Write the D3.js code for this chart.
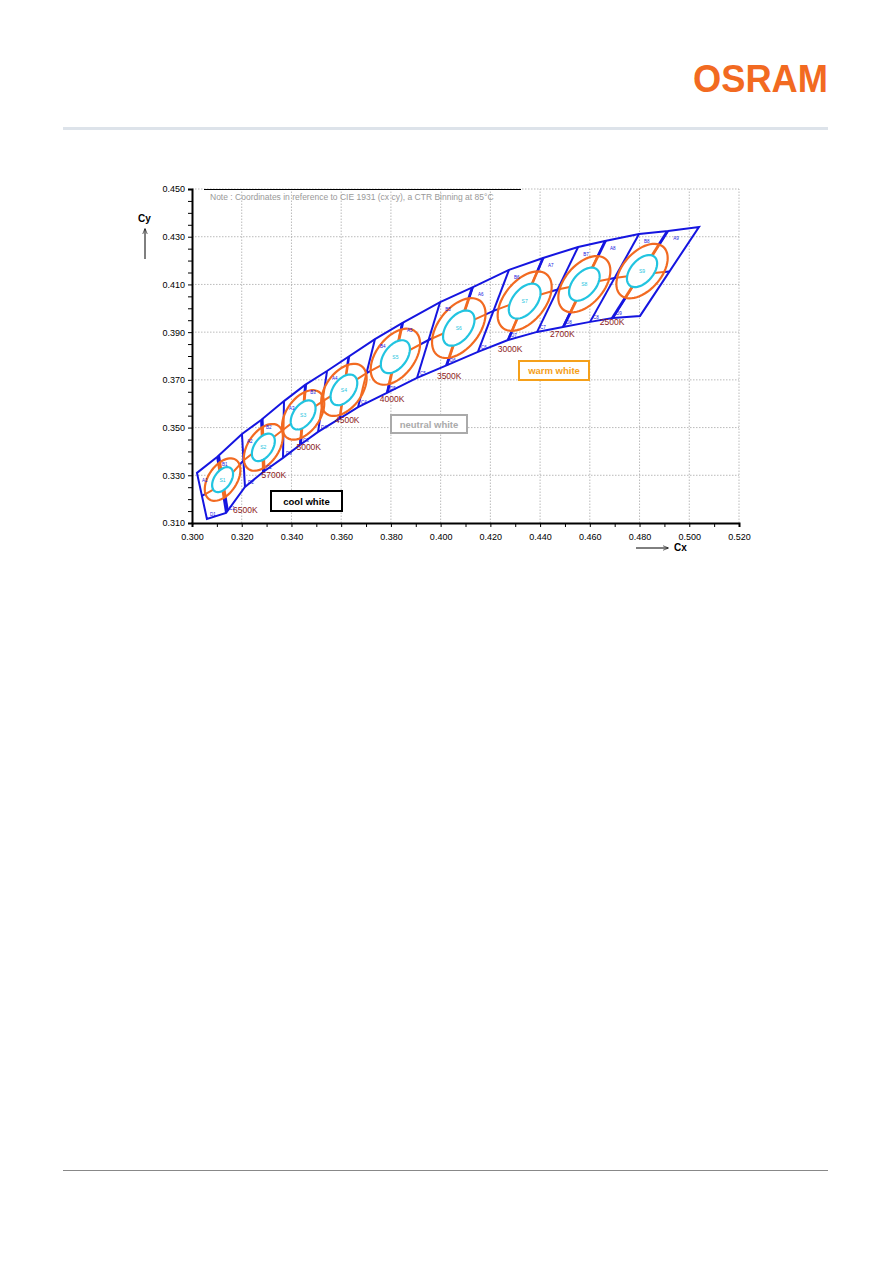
<!DOCTYPE html>
<html><head><meta charset="utf-8">
<script src="https://cdn.jsdelivr.net/npm/d3@7"></script>
<style>body{margin:0;background:#fff}</style>
</head><body><div id="chart"></div>
<script>
// outline of binning area: upper and lower boundary points, paired as bin dividers
var upperX = [0.3020,0.3101,0.3201,0.3278,0.3370,0.3455,0.3543,0.3736,0.3845,0.3998,0.4130,0.4275,0.4412,0.4553,0.4661,0.4798,0.4915,0.5039];
var upperY = [0.3310,0.3377,0.3473,0.3532,0.3611,0.3679,0.3737,0.3871,0.3938,0.4026,0.4089,0.4161,0.4211,0.4257,0.4282,0.4311,0.4324,0.4341];
var lowerX = [0.3060,0.3137,0.3213,0.3286,0.3366,0.3434,0.3507,0.3668,0.3784,0.3905,0.4026,0.4150,0.4271,0.4388,0.4492,0.4601,0.4693,0.4802];
var lowerY = [0.3117,0.3142,0.3251,0.3314,0.3373,0.3427,0.3482,0.3586,0.3645,0.3708,0.3762,0.3817,0.3867,0.3901,0.3922,0.3943,0.3959,0.3968];

var cctNames = ["6500K","5700K","5000K","4500K","4000K","3500K","3000K","2700K","2500K"];
var centerX = [0.3123,0.3287,0.3447,0.3611,0.3818,0.4073,0.4338,0.4578,0.4810];
var centerY = [0.3282,0.3417,0.3553,0.3658,0.3797,0.3917,0.4030,0.4101,0.4156];
var ellA = [0.0058,0.0064,0.0068,0.0072,0.0078,0.0084,0.0084,0.0080,0.0078];
var ellB = [0.0034,0.0037,0.0040,0.0043,0.0046,0.0049,0.0049,0.0047,0.0046];
var ellAngle = [58,58,57,56,55,54,53,52,51];
var labelX = [0.3165,0.3280,0.3420,0.3575,0.3755,0.3985,0.4230,0.4440,0.4640];
var labelY = [0.3142,0.3290,0.3408,0.3518,0.3608,0.3702,0.3818,0.3880,0.3930];

var xTicks = [0.300,0.320,0.340,0.360,0.380,0.400,0.420,0.440,0.460,0.480,0.500,0.520];
var yTicks = [0.310,0.330,0.350,0.370,0.390,0.410,0.430,0.450];

var W = 892, H = 1261;
var svg = d3.select("#chart").append("svg").attr("width", W).attr("height", H)
    .style("font-family", "Liberation Sans, Arial, sans-serif");
var defs = svg.append("defs");

// page header / footer
svg.append("text").attr("x", 693).attr("y", 92).text("OSRAM")
    .attr("font-size", 38).attr("font-weight", "bold").attr("fill", "#f26a21")
    .attr("textLength", 135).attr("lengthAdjust", "spacingAndGlyphs");
svg.append("rect").attr("x", 63).attr("y", 127).attr("width", 765).attr("height", 3).attr("fill", "#dde3ea");
svg.append("rect").attr("x", 63).attr("y", 1170).attr("width", 765).attr("height", 1).attr("fill", "#888");

var x = d3.scaleLinear().domain([0.300, 0.520]).range([192, 739]);
var y = d3.scaleLinear().domain([0.310, 0.450]).range([523, 189]);

// grid
svg.selectAll(".gx").data(xTicks.slice(1)).enter().append("line")
    .attr("x1", d => x(d)).attr("x2", d => x(d)).attr("y1", y(0.31)).attr("y2", y(0.45))
    .attr("stroke", "#aaa").attr("stroke-width", 0.8).attr("stroke-dasharray", "1.5,1.5");
svg.selectAll(".gy").data(yTicks.slice(1)).enter().append("line")
    .attr("x1", x(0.3)).attr("x2", x(0.52)).attr("y1", d => y(d)).attr("y2", d => y(d))
    .attr("stroke", "#aaa").attr("stroke-width", 0.8).attr("stroke-dasharray", "1.5,1.5");

var xAxis = svg.append("g").attr("transform", "translate(0," + y(0.31) + ")")
    .call(d3.axisBottom(x).tickValues(d3.range(0.300, 0.5201, 0.010)).tickSize(4)
        .tickFormat(d => xTicks.some(t => Math.abs(t - d) < 1e-6) ? d3.format(".3f")(d) : ""));
var yAxis = svg.append("g").attr("transform", "translate(" + x(0.3) + ",0)")
    .call(d3.axisLeft(y).tickValues(d3.range(0.310, 0.4501, 0.005)).tickSize(4)
        .tickFormat(d => yTicks.some(t => Math.abs(t - d) < 1e-6) ? d3.format(".3f")(d) : ""));
[xAxis, yAxis].forEach(function(a){
    a.select(".domain").attr("stroke", "#000").attr("stroke-width", 2);
    a.selectAll("text").attr("font-size", 9).attr("fill", "#000")
        .attr("font-family", "Liberation Sans, Arial, sans-serif");
});
xAxis.selectAll("text").attr("dy", "1.1em");

// axis titles with arrows
defs.append("marker").attr("id", "arr").attr("viewBox", "0 0 10 10")
    .attr("refX", 9).attr("refY", 5).attr("markerWidth", 6).attr("markerHeight", 6).attr("orient", "auto")
    .append("path").attr("d", "M0,1 L10,5 L0,9").attr("fill", "none").attr("stroke", "#000");
svg.append("text").attr("x", 138).attr("y", 222).text("Cy").attr("font-size", 10).attr("font-weight", "bold");
svg.append("line").attr("x1", 145).attr("y1", 259).attr("x2", 145).attr("y2", 229)
    .attr("stroke", "#000").attr("marker-end", "url(#arr)");
svg.append("text").attr("x", 674).attr("y", 551).text("Cx").attr("font-size", 10).attr("font-weight", "bold");
svg.append("line").attr("x1", 636).attr("y1", 548).attr("x2", 668).attr("y2", 548)
    .attr("stroke", "#000").attr("marker-end", "url(#arr)");

// note
svg.append("line").attr("x1", 204).attr("x2", 521).attr("y1", 189.5).attr("y2", 189.5).attr("stroke", "#000");
svg.append("text").attr("x", 210).attr("y", 200).attr("font-size", 8.5).attr("fill", "#999")
    .text("Note : Coordinates in reference to CIE 1931 (cx cy), a CTR Binning at 85°C");

// ellipse helpers
function axisPt(i, s, ang) {
    var th = ellAngle[i] * Math.PI / 180, r = ang * Math.PI / 180;
    var a = ellA[i] * s, b = ellB[i] * s;
    return [centerX[i] + a * Math.cos(r) * Math.cos(th) - b * Math.sin(r) * Math.sin(th),
            centerY[i] + a * Math.cos(r) * Math.sin(th) + b * Math.sin(r) * Math.cos(th)];
}
function ellPts(i, s) { return d3.range(0, 361, 6).map(t => axisPt(i, s, t)); }

// blue binning area
var upper = upperX.map((v, i) => [v, upperY[i]]);
var lower = lowerX.map((v, i) => [v, lowerY[i]]);
var mid = upper.map((p, i) => [(p[0] + lower[i][0]) / 2, (p[1] + lower[i][1]) / 2]);
var line = d3.line().x(d => x(d[0])).y(d => y(d[1]));
var blue = "#1515e0";
var orange = "#f26a21";
var outline = upper.concat(lower.slice().reverse());
defs.append("clipPath").attr("id", "areaclip").append("path").attr("d", line(outline) + "Z");

// isotherm through each ellipse centre, direction taken from the neighbouring divider
var centerLines = centerX.map(function(cx, i){
    var k = d3.minIndex(mid, m => Math.hypot(m[0] - cx, m[1] - centerY[i]));
    var dx = upper[k][0] - lower[k][0], dy = upper[k][1] - lower[k][1];
    return {x1: cx - dx, y1: centerY[i] - dy, x2: cx + dx, y2: centerY[i] + dy};
});

function drawGrid(g, col, clipCentre) {
    g.append("path").attr("d", line(outline) + "Z")
        .attr("fill", "none").attr("stroke", col).attr("stroke-width", 2);
    g.append("path").attr("d", line(mid)).attr("fill", "none").attr("stroke", col).attr("stroke-width", 2);
    g.selectAll(".div").data(upper.slice(1, -1)).enter().append("line")
        .attr("x1", d => x(d[0])).attr("y1", d => y(d[1]))
        .attr("x2", (d, i) => x(lower[i + 1][0])).attr("y2", (d, i) => y(lower[i + 1][1]))
        .attr("stroke", col).attr("stroke-width", 2);
    var c = g.append("g");
    if (clipCentre) c.attr("clip-path", "url(#areaclip)");
    c.selectAll("line").data(centerLines).enter().append("line")
        .attr("x1", d => x(d.x1)).attr("y1", d => y(d.y1))
        .attr("x2", d => x(d.x2)).attr("y2", d => y(d.y2))
        .attr("stroke", col).attr("stroke-width", 2.6);
}
drawGrid(svg.append("g"), blue, true);

// interior of the orange ellipses, where the bin lines turn orange
var clip = defs.append("clipPath").attr("id", "ringclip");
centerX.forEach((cx, i) => clip.append("path").attr("d", line(ellPts(i, 1.7)) + "Z"));
svg.selectAll(".ringbg").data(centerX).enter().append("path")
    .attr("d", (d, i) => line(ellPts(i, 1.7)) + "Z").attr("fill", "#fff");
drawGrid(svg.append("g").attr("clip-path", "url(#ringclip)"), orange, false);

centerX.forEach(function(cx, i){
    svg.append("path").attr("d", line(ellPts(i, 1.7)) + "Z").attr("fill", "none").attr("stroke", orange).attr("stroke-width", 2.2);
    svg.append("path").attr("d", line(ellPts(i, 1)) + "Z").attr("fill", "#fff").attr("stroke", "#22c4e0").attr("stroke-width", 2.2);
    svg.append("text").attr("x", x(cx)).attr("y", y(centerY[i]) + 2).attr("text-anchor", "middle")
        .attr("font-size", 5).attr("fill", "#22c4e0").text("S" + (i + 1));
    svg.append("text").attr("x", x(labelX[i])).attr("y", y(labelY[i])).attr("font-size", 8.5)
        .attr("fill", "#8b1a1a").text(cctNames[i]);
});

// bin labels (small, blue)
upper.slice(0, -1).forEach(function(p, i){
    var q = lower[i];
    svg.append("text").attr("x", x(p[0]) + 5).attr("y", y(p[1]) + 9).attr("font-size", 4.5)
        .attr("fill", blue).text((i % 2 ? "B" : "A") + (Math.floor(i / 2) + 1));
    svg.append("text").attr("x", x(q[0]) + 3).attr("y", y(q[1]) - 3).attr("font-size", 4.5)
        .attr("fill", blue).text((i % 2 ? "C" : "D") + (Math.floor(i / 2) + 1));
});

// category boxes
var boxes = [
    {t: "cool white", x1: 271, y1: 491, w: 71, h: 20, c: "#000", tc: "#000"},
    {t: "neutral white", x1: 391, y1: 415, w: 76, h: 18, c: "#aaa", tc: "#aaa"},
    {t: "warm white", x1: 519, y1: 361, w: 70, h: 19, c: "#f5a01a", tc: "#f5a01a"}
];
boxes.forEach(function(b){
    svg.append("rect").attr("x", b.x1).attr("y", b.y1).attr("width", b.w).attr("height", b.h)
        .attr("fill", "#fff").attr("stroke", b.c).attr("stroke-width", 2);
    svg.append("text").attr("x", b.x1 + b.w / 2).attr("y", b.y1 + b.h / 2 + 3.5).attr("text-anchor", "middle")
        .attr("font-size", 9.5).attr("font-weight", "bold").attr("fill", b.tc).text(b.t);
});
</script>
</body></html>
